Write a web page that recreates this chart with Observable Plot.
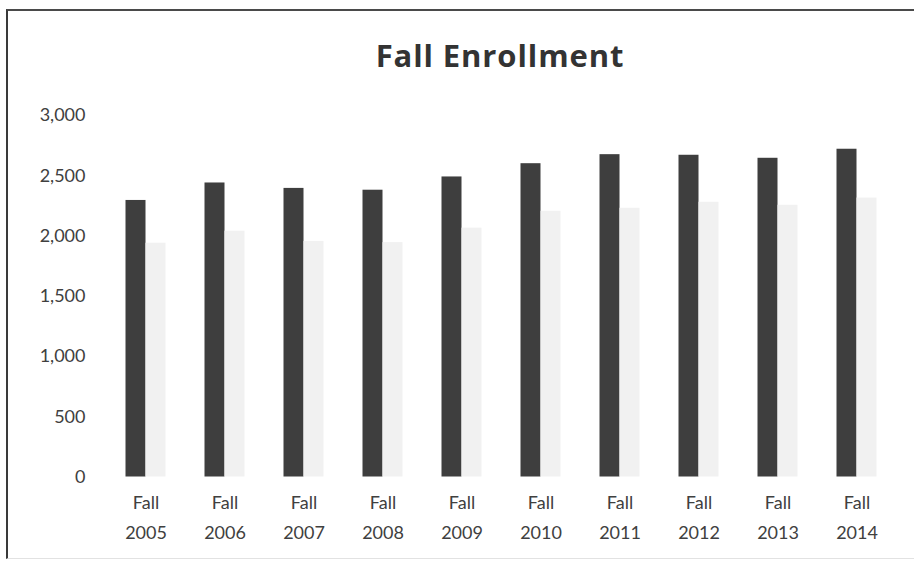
<!DOCTYPE html>
<html>
<head>
<meta charset="utf-8">
<script src="https://cdn.jsdelivr.net/npm/d3@7"></script>
<script src="https://cdn.jsdelivr.net/npm/@observablehq/plot@0.6"></script>
<style>
  html, body { margin: 0; padding: 0; background: #fff; }
  #wrap { position: relative; width: 914px; height: 561px; overflow: hidden; background: #fff; }
  #frame { position: absolute; left: 6px; top: 9px; right: -4px; bottom: 2px;
           border-left: 2px solid #3a3a3a; border-top: 2px solid #4a4a4a; border-bottom: 1px solid #e2e2e2; }
  #title { position: absolute; left: 0; width: 1000px; top: 37px; text-align: center;
           font-family: "Open Sans", Lato, sans-serif; font-weight: bold; font-size: 31px; letter-spacing: 0.9px;
           color: #333; line-height: 1.2; }
  #chart { position: absolute; left: 0; top: 0; }
</style>
</head>
<body>
<div id="wrap">
  <div id="frame"></div>
  <div id="title">Fall Enrollment</div>
  <div id="chart"></div>
</div>
<script>
const years = ["2005","2006","2007","2008","2009","2010","2011","2012","2013","2014"];
const enrollment = [2295, 2440, 2395, 2380, 2490, 2600, 2675, 2670, 2645, 2720];
const secondary  = [1940, 2040, 1955, 1945, 2065, 2205, 2230, 2280, 2255, 2315];
const series = ["Enrollment", "Secondary"];
const yTicks = [0, 500, 1000, 1500, 2000, 2500, 3000];

const rows = [];
years.forEach((y, i) => {
  rows.push({year: y, series: series[0], value: enrollment[i]});
  rows.push({year: y, series: series[1], value: secondary[i]});
});

const plot = Plot.plot({
  width: 914,
  height: 561,
  marginLeft: 105.5,
  marginRight: 18.5,
  marginTop: 115,
  marginBottom: 84.5,
  style: {background: "transparent", fontFamily: "Lato, 'Open Sans', sans-serif"},
  fx: {domain: years, padding: 0, label: null},
  x: {domain: series, paddingInner: 0, paddingOuter: 0.9, axis: null},
  y: {domain: [0, 3000], label: null},
  color: {domain: series, range: ["#3e3e3e", "#f1f1f1"]},
  marks: [
    Plot.axisY({ticks: yTicks, tickFormat: d3.format(","), tickSize: 0, tickPadding: 21,
      fontSize: 18, fill: "#404040", label: null}),
    Plot.axisFx({anchor: "bottom", tickSize: 0, tickPadding: 11, fontSize: 18, fill: "#404040",
      lineHeight: 1.65, tickFormat: d => "Fall\n" + d, label: null}),
    Plot.barY(rows, {fx: "year", x: "series", y: "value", fill: "series"})
  ]
});
document.getElementById("chart").appendChild(plot);
</script>
</body>
</html>
